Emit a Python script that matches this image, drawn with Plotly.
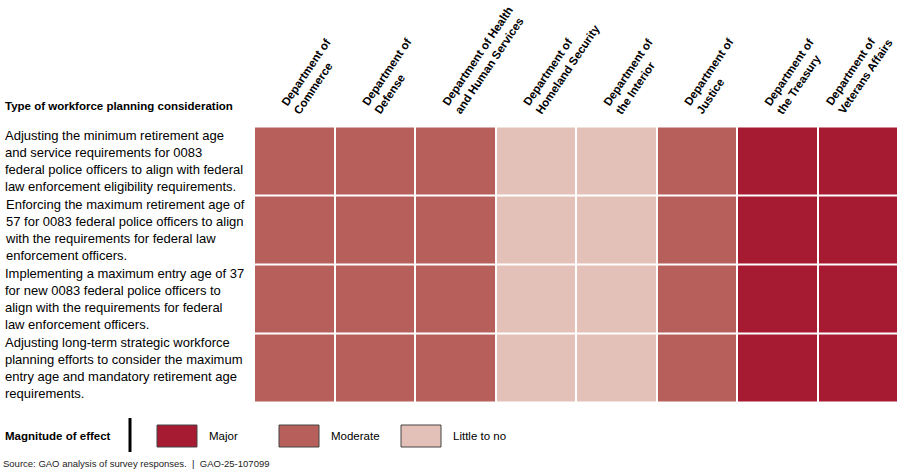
import plotly.graph_objects as go

departments = [
    "Department of<br>Commerce",
    "Department of<br>Defense",
    "Department of Health<br>and Human Services",
    "Department of<br>Homeland Security",
    "Department of<br>the Interior",
    "Department of<br>Justice",
    "Department of<br>the Treasury",
    "Department of<br>Veterans Affairs",
]

considerations = [
    "Adjusting the minimum retirement age<br>and service requirements for 0083<br>federal police officers to align with federal<br>law enforcement eligibility requirements.",
    "Enforcing the maximum retirement age of<br>57 for 0083 federal police officers to align<br>with the requirements for federal law<br>enforcement officers.",
    "Implementing a maximum entry age of 37<br>for new 0083 federal police officers to<br>align with the requirements for federal<br>law enforcement officers.",
    "Adjusting long-term strategic workforce<br>planning efforts to consider the maximum<br>entry age and mandatory retirement age<br>requirements.",
]

# 3 = Major, 2 = Moderate, 1 = Little to no
effects = [
    [2, 2, 2, 1, 1, 2, 3, 3],
    [2, 2, 2, 1, 1, 2, 3, 3],
    [2, 2, 2, 1, 1, 2, 3, 3],
    [2, 2, 2, 1, 1, 2, 3, 3],
]

levels = ["Major", "Moderate", "Little to no"]
level_colors = ["#A61B32", "#B75F5B", "#E4C1B8"]

C_MAJOR, C_MOD, C_LITTLE = level_colors
colorscale = [
    [0.0, C_LITTLE], [1 / 3, C_LITTLE],
    [1 / 3, C_MOD], [2 / 3, C_MOD],
    [2 / 3, C_MAJOR], [1.0, C_MAJOR],
]

xi = list(range(len(departments)))
yi = list(range(len(considerations)))

FONT = "Liberation Sans, Arial, sans-serif"

W, H = 900, 470
pl, pr, pt, pb = 254, 2, 126, 67
pw, ph = W - pl - pr, H - pt - pb


def px(x):
    return (x - pl) / pw


def py(y):
    return (H - pb - y) / ph


fig = go.Figure()
fig.add_trace(go.Heatmap(
    z=effects, x=xi, y=yi,
    zmin=0.5, zmax=3.5,
    colorscale=colorscale, showscale=False,
    xgap=2, ygap=2, hoverinfo="skip",
))

annotations = []

# rotated column headers
for i, d in enumerate(departments):
    shift = -18 if i < len(departments) - 1 else -37
    annotations.append(dict(
        x=i, xref="x", y=1, yref="paper", xshift=shift, yshift=7,
        text="<b>" + d + "</b>", textangle=-56, showarrow=False,
        xanchor="left", yanchor="bottom", align="left",
        font=dict(family=FONT, size=11.5, color="#000"),
    ))

for i, txt in enumerate(considerations):
    annotations.append(dict(
        x=px(3), xref="paper", y=i, yref="y",
        text=txt, showarrow=False, xanchor="left", yanchor="middle",
        align="left", font=dict(family=FONT, size=13, color="#000"),
    ))

annotations.append(dict(
    x=px(3), xref="paper", y=py(106), yref="paper",
    text="<b>Type of workforce planning consideration</b>", showarrow=False,
    xanchor="left", yanchor="middle", font=dict(family=FONT, size=11.5, color="#000"),
))

# legend
annotations.append(dict(
    x=px(3), y=py(436), xref="paper", yref="paper",
    text="<b>Magnitude of effect</b>", showarrow=False, xanchor="left", yanchor="middle",
    font=dict(family=FONT, size=11.5, color="#000"),
))
shapes = [dict(
    type="line", xref="paper", yref="paper",
    x0=px(130), x1=px(130), y0=py(418), y1=py(452),
    line=dict(color="#000", width=3),
)]
box_x = [157, 279, 401]
for bx, lab, col in zip(box_x, levels, level_colors):
    shapes.append(dict(
        type="rect", xref="paper", yref="paper",
        x0=px(bx), x1=px(bx + 40), y0=py(447), y1=py(425),
        fillcolor=col, line=dict(color="#444", width=1),
    ))
    annotations.append(dict(
        x=px(bx + 50), y=py(436), xref="paper", yref="paper",
        text=lab, showarrow=False, xanchor="left", yanchor="middle",
        font=dict(family=FONT, size=11.5, color="#000"),
    ))

annotations.append(dict(
    x=px(1), y=py(463), xref="paper", yref="paper",
    text="Source: GAO analysis of survey responses.  |  GAO-25-107099",
    showarrow=False, xanchor="left", yanchor="middle",
    font=dict(family=FONT, size=9.5, color="#222"),
))

fig.update_layout(
    width=W, height=H,
    margin=dict(l=pl, r=pr, t=pt, b=pb, autoexpand=False),
    paper_bgcolor="white", plot_bgcolor="white",
    xaxis=dict(
        showticklabels=False, showgrid=False, zeroline=False, showline=False,
        ticks="", range=[-0.5, len(departments) - 0.5], fixedrange=True,
        automargin=False,
    ),
    yaxis=dict(
        autorange="reversed", showticklabels=False, showgrid=False,
        zeroline=False, showline=False, ticks="", fixedrange=True,
        automargin=False,
    ),
    showlegend=False,
    annotations=annotations, shapes=shapes,
)

fig.write_html(
    "out.html",
    config={"displayModeBar": False},
    post_script="document.body.style.margin='0';document.body.style.overflow='hidden';",
)
